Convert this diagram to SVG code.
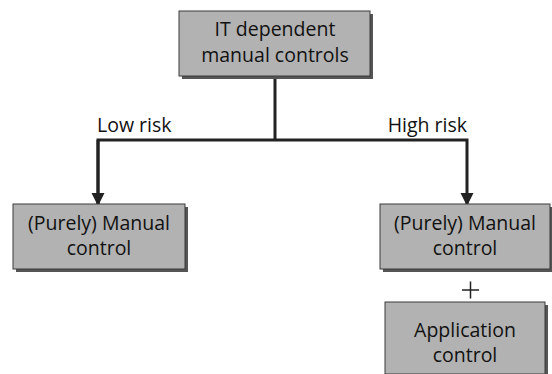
<svg xmlns="http://www.w3.org/2000/svg" width="552" height="374" viewBox="0 0 552 374">
<style>
.box{fill:#b2b2b2;stroke:#3a3a3a;stroke-width:1}
.sh{fill:#555}
.t{font-family:"Open Sans","Noto Sans","Liberation Sans",sans-serif;font-size:19.5px;fill:#111;text-anchor:middle}
.lbl{font-family:"Open Sans","Noto Sans","Liberation Sans",sans-serif;font-size:19.5px;fill:#111}
.ln{fill:none;stroke:#222;stroke-width:3}
</style>
<defs>
<marker id="ah" viewBox="0 0 10 10" refX="10" refY="5" markerWidth="4.5" markerHeight="4.5" markerUnits="strokeWidth" orient="auto">
<path d="M0,0 L10,5 L0,10 z" fill="#222"/>
</marker>
</defs>
<g id="connectors">
<path class="ln" d="M275,76 V141"/>
<path class="ln" d="M98,206 V140 H467 V206" marker-end="url(#ah)"/>
<path class="ln" d="M98,140 V206" marker-end="url(#ah)"/>
<text class="lbl" x="97" y="132">Low risk</text>
<text class="lbl" x="467" y="132" text-anchor="end">High risk</text>
</g>
<g id="top">
<rect class="sh" x="182" y="14" width="191" height="65"/>
<rect class="box" x="179" y="11" width="191" height="65"/>
<text class="t" x="275" y="36">IT dependent</text>
<text class="t" x="275" y="62">manual controls</text>
</g>
<g id="left">
<rect class="sh" x="16" y="207" width="172" height="65"/>
<rect class="box" x="13" y="204" width="172" height="65"/>
<text class="t" x="99" y="230">(Purely) Manual</text>
<text class="t" x="99" y="255">control</text>
</g>
<g id="right">
<rect class="sh" x="383" y="207" width="170" height="65"/>
<rect class="box" x="380" y="204" width="170" height="65"/>
<text class="t" x="465" y="230">(Purely) Manual</text>
<text class="t" x="465" y="255">control</text>
</g>
<g id="plus">
<path d="M462,290 H479 M470.5,281.5 V298.5" stroke="#222" stroke-width="1.5" fill="none"/>
</g>
<g id="app">
<rect class="sh" x="388" y="305" width="160" height="72"/>
<rect class="box" x="385" y="302" width="160" height="72"/>
<text class="t" x="465" y="337">Application</text>
<text class="t" x="465" y="362">control</text>
</g>
</svg>
